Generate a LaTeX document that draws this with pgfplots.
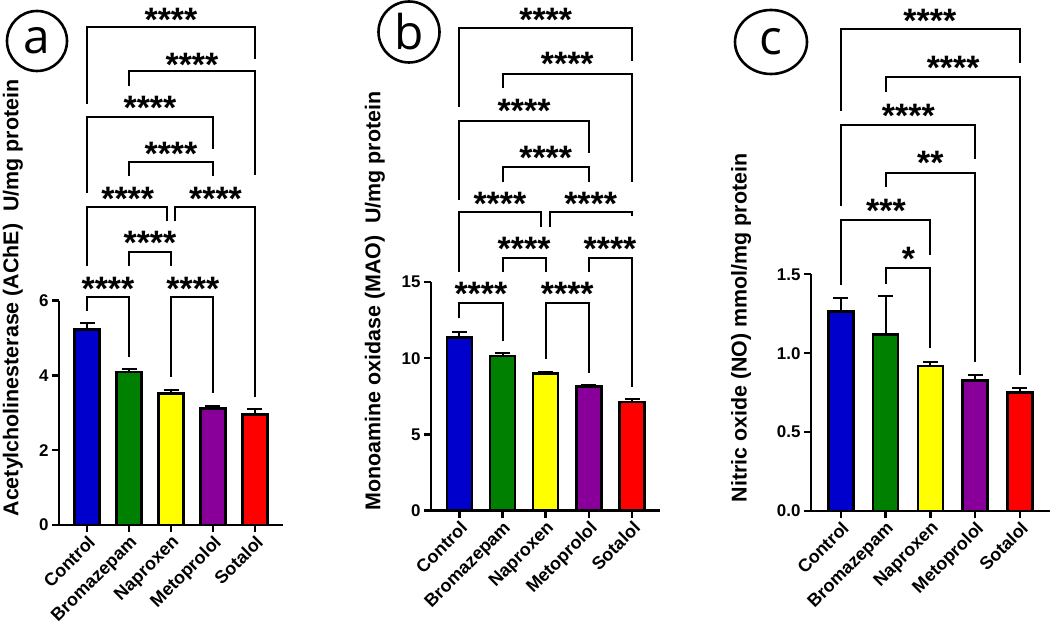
\documentclass[border=0pt]{standalone}
\usepackage{fontspec}
\setmainfont{Liberation Sans}
\newfontfamily\circfont{Open Sans}
\usepackage{pgfplots}
\pgfplotsset{compat=1.18}
\usetikzlibrary{shapes.geometric}

\definecolor{cblue}{RGB}{0,0,204}
\definecolor{cgreen}{RGB}{0,128,0}
\definecolor{cyellow}{RGB}{255,255,0}
\definecolor{cpurple}{RGB}{136,0,153}
\definecolor{cred}{RGB}{255,0,0}

\pgfplotsset{
  panel/.style={
    scale only axis, anchor=south west, clip=false,
    axis x line*=bottom, axis y line*=left,
    axis line style={line width=2.4bp, black},
    tick style={line width=2.4bp, black},
    tick align=outside, major tick length=7bp,
    ymin=0, xtick={0,1,2,3,4},
    xticklabels={Control,Bromazepam,Naproxen,Metoprolol,Sotalol},
    xticklabel style={rotate=45, anchor=north east, inner sep=1.5bp,
      font=\bfseries\fontsize{18}{18}\selectfont},
    yticklabel style={font=\bfseries\fontsize{17}{17}\selectfont},
    /pgf/number format/assume math mode=true,
  },
  bar/.style={ybar, bar width=25bp, draw=black, line width=2.6bp, fill=#1,
    error bars/.cd, y dir=plus, y explicit,
    error bar style={line width=2bp, black},
    error mark options={rotate=90, mark size=7.5bp, line width=2bp, black}},
  brk/.style={black, line width=2bp, no marks, sharp plot},
}
\tikzset{
  stars/.style={anchor=base, yshift=-19bp, inner sep=0pt,
    font=\bfseries\fontsize{34}{34}\selectfont},
  ylab/.style={rotate=90, font=\bfseries\fontsize{21.5}{21.5}\selectfont},
}

\begin{document}
\begin{tikzpicture}
\useasboundingbox (0,0) rectangle (1052bp,626bp);

% ---------------- panel a: AChE
\begin{axis}[panel, at={(59bp,101bp)}, width=224bp, height=224.4bp,
    xmin=-0.667, xmax=4.667, ymax=6, ytick={0,2,4,6}]
\addplot[bar=cblue]   coordinates {(0,5.22) +- (0,0.19)};
\addplot[bar=cgreen]  coordinates {(1,4.09) +- (0,0.07)};
\addplot[bar=cyellow] coordinates {(2,3.51) +- (0,0.10)};
\addplot[bar=cpurple] coordinates {(3,3.11) +- (0,0.06)};
\addplot[bar=cred]    coordinates {(4,2.95) +- (0,0.14)};
% significance brackets
\addplot[brk] coordinates {(0,11.26) (0,13.31) (4,13.31) (4,12.46)};
\addplot[brk] coordinates {(1,11.74) (1,12.13) (4,12.13) (4,9.36)};
\addplot[brk] coordinates {(0,8.88) (0,10.92) (3,10.92) (3,10.05)};
\addplot[brk] coordinates {(1,9.33) (1,9.71) (3,9.71) (3,9.33)};
\addplot[brk] coordinates {(0,6.93) (0,8.50) (1.9,8.50) (1.9,8.13)};
\addplot[brk] coordinates {(2.1,8.13) (2.1,8.50) (4,8.50) (4,3.42)};
\addplot[brk] coordinates {(1,6.93) (1,7.31) (2,7.31) (2,6.93)};
\addplot[brk] coordinates {(0,5.72) (0,6.10) (1,6.10) (1,4.50)};
\addplot[brk] coordinates {(2,3.96) (2,6.10) (3,6.10) (3,3.53)};
\node[stars] at (axis cs:2,13.70) {****};
\node[stars] at (axis cs:2.5,12.51) {****};
\node[stars] at (axis cs:1.5,11.34) {****};
\node[stars] at (axis cs:2,10.13) {****};
\node[stars] at (axis cs:0.97,8.91) {****};
\node[stars] at (axis cs:3.06,8.91) {****};
\node[stars] at (axis cs:1.5,7.73) {****};
\node[stars] at (axis cs:0.5,6.51) {****};
\node[stars] at (axis cs:2.52,6.51) {****};
\end{axis}

% ---------------- panel b: MAO
\begin{axis}[panel, at={(431bp,115.4bp)}, width=229bp, height=228.6bp,
    xmin=-0.655, xmax=4.646, ymax=15, ytick={0,5,10,15}]
\addplot[bar=cblue]   coordinates {(0,11.35) +- (0,0.39)};
\addplot[bar=cgreen]  coordinates {(1,10.14) +- (0,0.18)};
\addplot[bar=cyellow] coordinates {(2,9.01) +- (0,0.08)};
\addplot[bar=cpurple] coordinates {(3,8.16) +- (0,0.06)};
\addplot[bar=cred]    coordinates {(4,7.13) +- (0,0.17)};
\addplot[brk] coordinates {(0,26.46) (0,31.65) (4,31.65) (4,29.50)};
\addplot[brk] coordinates {(1,27.71) (1,28.65) (4,28.65) (4,21.58)};
\addplot[brk] coordinates {(0,20.38) (0,25.58) (3,25.58) (3,23.44)};
\addplot[brk] coordinates {(1,21.58) (1,22.57) (3,22.57) (3,21.58)};
\addplot[brk] coordinates {(0,15.68) (0,19.61) (1.9,19.61) (1.9,18.63)};
\addplot[brk] coordinates {(2.1,18.63) (2.1,19.61) (4,19.61) (4,19.33)};
\addplot[brk] coordinates {(1,15.68) (1,16.56) (2,16.56) (2,15.68)};
\addplot[brk] coordinates {(3,15.68) (3,16.56) (4,16.56) (4,8.09)};
\addplot[brk] coordinates {(0,12.62) (0,13.60) (1,13.60) (1,11.13)};
\addplot[brk] coordinates {(2,9.95) (2,13.60) (3,13.60) (3,9.05)};
\node[stars] at (axis cs:2,32.70) {****};
\node[stars] at (axis cs:2.5,29.78) {****};
\node[stars] at (axis cs:1.5,26.68) {****};
\node[stars] at (axis cs:2,23.66) {****};
\node[stars] at (axis cs:0.94,20.64) {****};
\node[stars] at (axis cs:3.04,20.64) {****};
\node[stars] at (axis cs:1.5,17.64) {****};
\node[stars] at (axis cs:3.49,17.64) {****};
\node[stars] at (axis cs:0.5,14.69) {****};
\node[stars] at (axis cs:2.5,14.69) {****};
\end{axis}

% ---------------- panel c: NO
\begin{axis}[panel, at={(811bp,115bp)}, width=239bp, height=236.7bp,
    xmin=-0.663, xmax=4.672, ymax=1.5, ytick={0,0.5,1,1.5},
    yticklabel style={/pgf/number format/.cd, fixed, fixed zerofill, precision=1}]
\addplot[bar=cblue]   coordinates {(0,1.263) +- (0,0.089)};
\addplot[bar=cgreen]  coordinates {(1,1.120) +- (0,0.242)};
\addplot[bar=cyellow] coordinates {(2,0.919) +- (0,0.025)};
\addplot[bar=cpurple] coordinates {(3,0.826) +- (0,0.034)};
\addplot[bar=cred]    coordinates {(4,0.752) +- (0,0.026)};
\addplot[brk] coordinates {(0,2.535) (0,3.053) (4,3.053) (4,2.837)};
\addplot[brk] coordinates {(1,2.657) (1,2.748) (4,2.748) (4,0.862)};
\addplot[brk] coordinates {(0,1.933) (0,2.444) (3,2.444) (3,2.231)};
\addplot[brk] coordinates {(1,2.051) (1,2.144) (3,2.144) (3,0.946)};
\addplot[brk] coordinates {(0,1.432) (0,1.844) (2,1.844) (2,1.622)};
\addplot[brk] coordinates {(1,1.440) (1,1.538) (2,1.538) (2,1.031)};
\node[stars] at (axis cs:1.99,3.154) {****};
\node[stars] at (axis cs:2.51,2.854) {****};
\node[stars] at (axis cs:1.51,2.552) {****};
\node[stars] at (axis cs:2,2.250) {**};
\node[stars] at (axis cs:1.01,1.946) {***};
\node[stars] at (axis cs:1.51,1.643) {*};
\end{axis}

% axis titles
\node[ylab] at (13bp,328bp) {Acetylcholinesterase (AChE)\ \ U/mg protein};
\node[ylab] at (375bp,325bp) {Monoamine oxidase (MAO)\ \ U/mg protein};
\node[ylab] at (741bp,298bp) {Nitric oxide (NO) mmol/mg protein};

% panel letters
\node[draw, circle, line width=2.6bp, minimum size=60bp, inner sep=0pt]
  at (37bp,585bp) {\circfont\fontsize{48}{48}\selectfont a};
\node[draw, circle, line width=2.6bp, minimum size=61bp, inner sep=0pt]
  at (409bp,594bp) {\circfont\fontsize{48}{48}\selectfont b};
\node[draw, ellipse, line width=2.6bp, minimum width=72bp, minimum height=64bp, inner sep=0pt]
  at (771bp,584bp) {\circfont\fontsize{48}{48}\selectfont c};
\end{tikzpicture}
\end{document}
